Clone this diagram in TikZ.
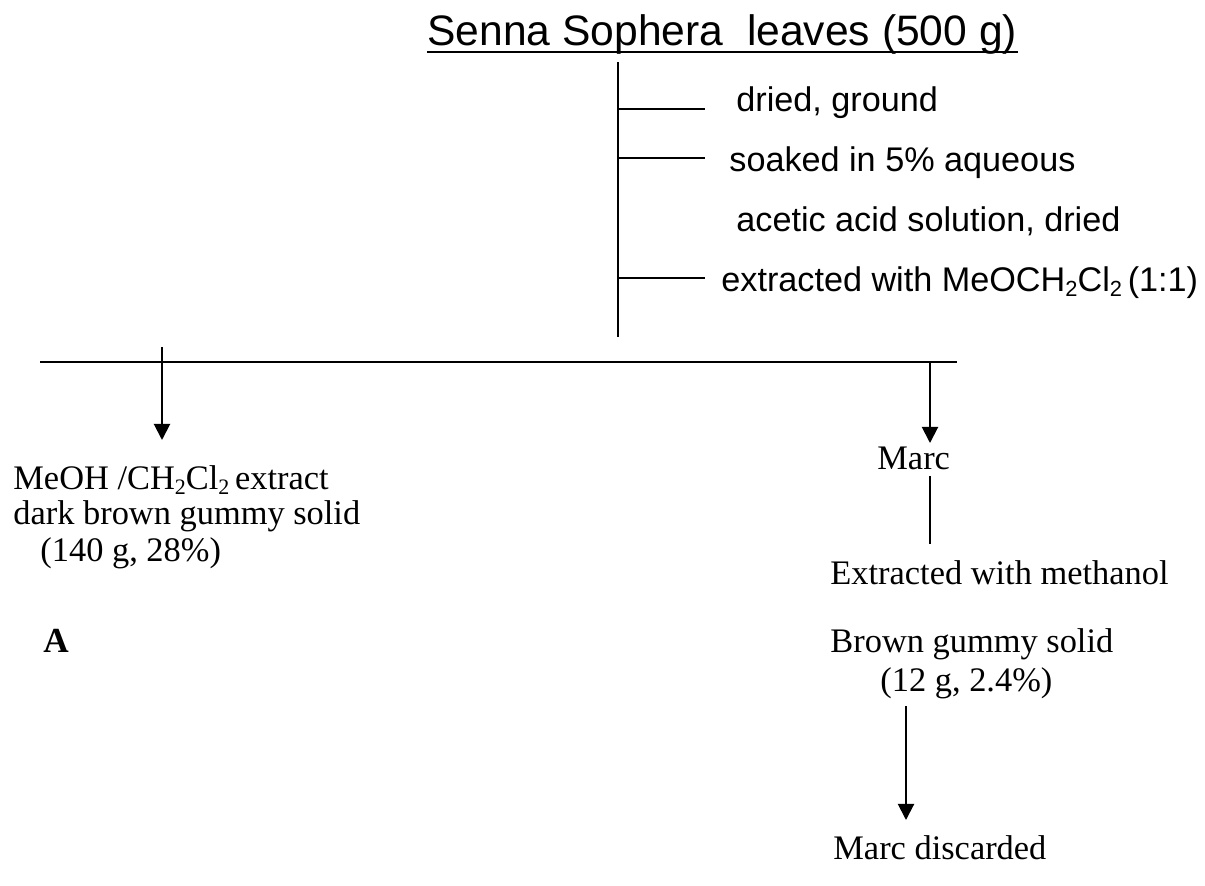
\documentclass[tikz,border=0pt]{standalone}
\usepackage{fontspec}
\usepackage{graphicx}
\setmainfont{Liberation Serif}
\newfontfamily\arialf{Liberation Sans}
\usetikzlibrary{arrows.meta}
\newcommand{\sbsc}[1]{\raisebox{-0.12em}{\scalebox{0.64}{#1}}}
\tikzset{
  lbl/.style={anchor=base west, inner sep=0pt, font=\fontsize{17.2pt}{20pt}\selectfont},
  slbl/.style={anchor=base west, inner sep=0pt, font=\arialf\fontsize{17.1pt}{20pt}\selectfont},
  ttl/.style={anchor=base west, inner sep=0pt, font=\arialf\fontsize{21.3pt}{25pt}\selectfont},
  ln/.style={line width=1pt},
  arr/.style={line width=1pt, -{Triangle[width=8pt,length=8pt]}}
}
\begin{document}
\begin{tikzpicture}[x=0.5pt,y=-0.5pt]
\useasboundingbox (0,0) rectangle (1205,886);
% title
\node[ttl] (title) at (427,46) {Senna Sophera\ \ leaves (500 g)};
\draw[line width=1.2pt] ([yshift=-3pt]title.base west) -- ([yshift=-3pt]title.base east);
% stem
\coordinate (stemtop) at (618,62);
\coordinate (stembot) at (618,337);
\draw[ln] (stemtop) -- (stembot);
\coordinate (t1a) at (618,109); \coordinate (t1b) at (705,109);
\coordinate (t2a) at (618,158); \coordinate (t2b) at (705,158);
\coordinate (t3a) at (618,278); \coordinate (t3b) at (705,278);
\draw[ln] (t1a) -- (t1b);
\draw[ln] (t2a) -- (t2b);
\draw[ln] (t3a) -- (t3b);
\node[slbl] (s1) at (736,112) {dried, ground};
\node[slbl] (s2) at (729,172) {soaked in 5\% aqueous};
\node[slbl] (s3) at (736,232) {acetic acid solution, dried};
\node[slbl] (s4) at (721,292) {extracted with MeOCH\sbsc{2}Cl\sbsc{2}\,(1:1)};
% split line
\coordinate (hl) at (40,362);
\coordinate (hr) at (957,362);
\draw[ln] (hl) -- (hr);
\coordinate (la) at (162,347);
\coordinate (lb) at (162,440);
\draw[arr] (la) -- (lb);
\coordinate (ra) at (930,362);
\coordinate (rb) at (930,443);
\draw[arr] (ra) -- (rb);
% left branch
\node[lbl] (e1) at (13,490) {MeOH /CH\sbsc{2}Cl\sbsc{2}\,extract};
\node[lbl] (e2) at (13,525) {dark brown gummy solid};
\node[lbl] (e3) at (40,562) {(140 g, 28\%)};
\node[lbl, font=\bfseries\fontsize{17.6pt}{20pt}\selectfont] (A) at (43,653) {A};
% right branch
\node[lbl] (marc) at (877,470) {Marc};
\coordinate (m1) at (930,476);
\coordinate (m2) at (930,544);
\draw[ln] (m1) -- (m2);
\node[lbl] (ext) at (830,585) {Extracted with methanol};
\node[lbl] (b1) at (830,653) {Brown gummy solid};
\node[lbl] (b2) at (880,692) {(12 g, 2.4\%)};
\coordinate (da) at (906,706);
\coordinate (db) at (906,820);
\draw[arr] (da) -- (db);
\node[lbl] (disc) at (833,860) {Marc discarded};
\end{tikzpicture}
\end{document}
